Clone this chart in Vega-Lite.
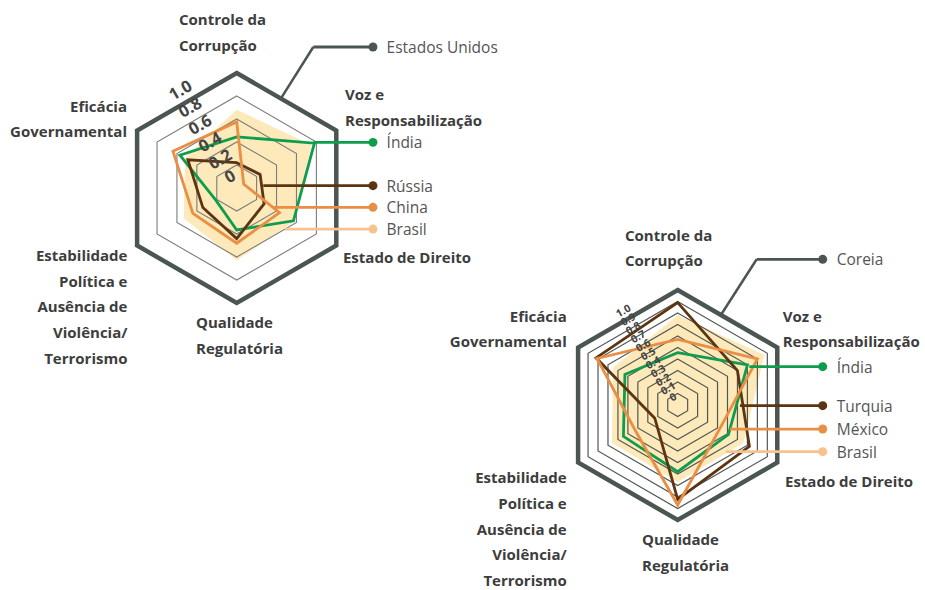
{
  "$schema": "https://vega.github.io/schema/vega-lite/v6.json",
  "width": 925,
  "height": 590,
  "autosize": {"type": "fit", "contains": "padding"},
  "padding": 0,
  "background": "white",
  "config": {"view": {"stroke": null}},
  "params": [
    {"name": "cxL", "value": 2.0583},
    {"name": "cyL", "value": 1.6348},
    {"name": "cxR", "value": 5.893},
    {"name": "cyR", "value": 3.5217}
  ],
  "datasets": {
    "series": [
      {"chart": "L", "country": "Estados Unidos", "i": 0, "v": 1}, {"chart": "L", "country": "Estados Unidos", "i": 1, "v": 1},
      {"chart": "L", "country": "Estados Unidos", "i": 2, "v": 1}, {"chart": "L", "country": "Estados Unidos", "i": 3, "v": 1},
      {"chart": "L", "country": "Estados Unidos", "i": 4, "v": 1}, {"chart": "L", "country": "Estados Unidos", "i": 5, "v": 1},
      {"chart": "L", "country": "Índia", "i": 0, "v": 0.445}, {"chart": "L", "country": "Índia", "i": 1, "v": 0.78},
      {"chart": "L", "country": "Índia", "i": 2, "v": 0.57}, {"chart": "L", "country": "Índia", "i": 3, "v": 0.365},
      {"chart": "L", "country": "Índia", "i": 4, "v": 0.21}, {"chart": "L", "country": "Índia", "i": 5, "v": 0.57},
      {"chart": "L", "country": "Rússia", "i": 0, "v": 0.22}, {"chart": "L", "country": "Rússia", "i": 1, "v": 0.235},
      {"chart": "L", "country": "Rússia", "i": 2, "v": 0.275}, {"chart": "L", "country": "Rússia", "i": 3, "v": 0.44},
      {"chart": "L", "country": "Rússia", "i": 4, "v": 0.34}, {"chart": "L", "country": "Rússia", "i": 5, "v": 0.49},
      {"chart": "L", "country": "China", "i": 0, "v": 0.575}, {"chart": "L", "country": "China", "i": 1, "v": 0.07},
      {"chart": "L", "country": "China", "i": 2, "v": 0.43}, {"chart": "L", "country": "China", "i": 3, "v": 0.48},
      {"chart": "L", "country": "China", "i": 4, "v": 0.44}, {"chart": "L", "country": "China", "i": 5, "v": 0.64},
      {"chart": "L", "country": "Brasil", "i": 0, "v": 0.68}, {"chart": "L", "country": "Brasil", "i": 1, "v": 0.75},
      {"chart": "L", "country": "Brasil", "i": 2, "v": 0.58}, {"chart": "L", "country": "Brasil", "i": 3, "v": 0.63},
      {"chart": "L", "country": "Brasil", "i": 4, "v": 0.53}, {"chart": "L", "country": "Brasil", "i": 5, "v": 0.52},
      {"chart": "R", "country": "Coreia", "i": 0, "v": 1}, {"chart": "R", "country": "Coreia", "i": 1, "v": 1},
      {"chart": "R", "country": "Coreia", "i": 2, "v": 1}, {"chart": "R", "country": "Coreia", "i": 3, "v": 1},
      {"chart": "R", "country": "Coreia", "i": 4, "v": 1}, {"chart": "R", "country": "Coreia", "i": 5, "v": 1},
      {"chart": "R", "country": "Índia", "i": 0, "v": 0.455}, {"chart": "R", "country": "Índia", "i": 1, "v": 0.70},
      {"chart": "R", "country": "Índia", "i": 2, "v": 0.51}, {"chart": "R", "country": "Índia", "i": 3, "v": 0.58},
      {"chart": "R", "country": "Índia", "i": 4, "v": 0.545}, {"chart": "R", "country": "Índia", "i": 5, "v": 0.53},
      {"chart": "R", "country": "Turquia", "i": 0, "v": 0.89}, {"chart": "R", "country": "Turquia", "i": 1, "v": 0.60},
      {"chart": "R", "country": "Turquia", "i": 2, "v": 0.72}, {"chart": "R", "country": "Turquia", "i": 3, "v": 0.82},
      {"chart": "R", "country": "Turquia", "i": 4, "v": 0.23}, {"chart": "R", "country": "Turquia", "i": 5, "v": 0.82},
      {"chart": "R", "country": "México", "i": 0, "v": 0.57}, {"chart": "R", "country": "México", "i": 1, "v": 0.80},
      {"chart": "R", "country": "México", "i": 2, "v": 0.42}, {"chart": "R", "country": "México", "i": 3, "v": 0.87},
      {"chart": "R", "country": "México", "i": 4, "v": 0.43}, {"chart": "R", "country": "México", "i": 5, "v": 0.81},
      {"chart": "R", "country": "Brasil", "i": 0, "v": 0.78}, {"chart": "R", "country": "Brasil", "i": 1, "v": 0.87},
      {"chart": "R", "country": "Brasil", "i": 2, "v": 0.66}, {"chart": "R", "country": "Brasil", "i": 3, "v": 0.67},
      {"chart": "R", "country": "Brasil", "i": 4, "v": 0.66}, {"chart": "R", "country": "Brasil", "i": 5, "v": 0.65}
    ],
    "grid": [
      {"chart": "L", "level": 0.2, "k": [0, 1, 2, 3, 4, 5]},
      {"chart": "L", "level": 0.4, "k": [0, 1, 2, 3, 4, 5]},
      {"chart": "L", "level": 0.6, "k": [0, 1, 2, 3, 4, 5]},
      {"chart": "L", "level": 0.8, "k": [0, 1, 2, 3, 4, 5]},
      {"chart": "R", "level": 0.1, "k": [0, 1, 2, 3, 4, 5]},
      {"chart": "R", "level": 0.2, "k": [0, 1, 2, 3, 4, 5]},
      {"chart": "R", "level": 0.3, "k": [0, 1, 2, 3, 4, 5]},
      {"chart": "R", "level": 0.4, "k": [0, 1, 2, 3, 4, 5]},
      {"chart": "R", "level": 0.5, "k": [0, 1, 2, 3, 4, 5]},
      {"chart": "R", "level": 0.6, "k": [0, 1, 2, 3, 4, 5]},
      {"chart": "R", "level": 0.7, "k": [0, 1, 2, 3, 4, 5]},
      {"chart": "R", "level": 0.8, "k": [0, 1, 2, 3, 4, 5]},
      {"chart": "R", "level": 0.9, "k": [0, 1, 2, 3, 4, 5]}
    ],
    "ticks": [
      {"chart": "L", "lab": "1.0", "v": 1}, {"chart": "L", "lab": "0.8", "v": 0.8}, {"chart": "L", "lab": "0.6", "v": 0.6},
      {"chart": "L", "lab": "0.4", "v": 0.4}, {"chart": "L", "lab": "0.2", "v": 0.2}, {"chart": "L", "lab": "0", "v": 0},
      {"chart": "R", "lab": "1.0", "v": 1}, {"chart": "R", "lab": "0.9", "v": 0.9}, {"chart": "R", "lab": "0.8", "v": 0.8},
      {"chart": "R", "lab": "0.7", "v": 0.7}, {"chart": "R", "lab": "0.6", "v": 0.6}, {"chart": "R", "lab": "0.5", "v": 0.5},
      {"chart": "R", "lab": "0.4", "v": 0.4}, {"chart": "R", "lab": "0.3", "v": 0.3}, {"chart": "R", "lab": "0.2", "v": 0.2},
      {"chart": "R", "lab": "0.1", "v": 0.1}, {"chart": "R", "lab": "0", "v": 0}
    ],
    "axes": [
      {"chart": "L", "axis": 0, "line": 0, "text": "Controle da"}, {"chart": "L", "axis": 0, "line": 1, "text": "Corrupção"},
      {"chart": "L", "axis": 1, "line": 0, "text": "Voz e"}, {"chart": "L", "axis": 1, "line": 1, "text": "Responsabilização"},
      {"chart": "L", "axis": 2, "line": 0, "text": "Estado de Direito"},
      {"chart": "L", "axis": 3, "line": 0, "text": "Qualidade"}, {"chart": "L", "axis": 3, "line": 1, "text": "Regulatória"},
      {"chart": "L", "axis": 4, "line": 0, "text": "Estabilidade"}, {"chart": "L", "axis": 4, "line": 1, "text": "Política e"},
      {"chart": "L", "axis": 4, "line": 2, "text": "Ausência de"}, {"chart": "L", "axis": 4, "line": 3, "text": "Violência/"},
      {"chart": "L", "axis": 4, "line": 4, "text": "Terrorismo"},
      {"chart": "L", "axis": 5, "line": 0, "text": "Eficácia"}, {"chart": "L", "axis": 5, "line": 1, "text": "Governamental"},
      {"chart": "R", "axis": 0, "line": 0, "text": "Controle da"}, {"chart": "R", "axis": 0, "line": 1, "text": "Corrupção"},
      {"chart": "R", "axis": 1, "line": 0, "text": "Voz e"}, {"chart": "R", "axis": 1, "line": 1, "text": "Responsabilização"},
      {"chart": "R", "axis": 2, "line": 0, "text": "Estado de Direito"},
      {"chart": "R", "axis": 3, "line": 0, "text": "Qualidade"}, {"chart": "R", "axis": 3, "line": 1, "text": "Regulatória"},
      {"chart": "R", "axis": 4, "line": 0, "text": "Estabilidade"}, {"chart": "R", "axis": 4, "line": 1, "text": "Política e"},
      {"chart": "R", "axis": 4, "line": 2, "text": "Ausência de"}, {"chart": "R", "axis": 4, "line": 3, "text": "Violência/"},
      {"chart": "R", "axis": 4, "line": 4, "text": "Terrorismo"},
      {"chart": "R", "axis": 5, "line": 0, "text": "Eficácia"}, {"chart": "R", "axis": 5, "line": 1, "text": "Governamental"}
    ],
    "legend": [
      {"chart": "L", "country": "Estados Unidos", "slot": 0}, {"chart": "L", "country": "Índia", "slot": 1},
      {"chart": "L", "country": "Rússia", "slot": 2}, {"chart": "L", "country": "China", "slot": 3},
      {"chart": "L", "country": "Brasil", "slot": 4},
      {"chart": "R", "country": "Coreia", "slot": 0}, {"chart": "R", "country": "Índia", "slot": 1},
      {"chart": "R", "country": "Turquia", "slot": 2}, {"chart": "R", "country": "México", "slot": 3},
      {"chart": "R", "country": "Brasil", "slot": 4}
    ]
  },
  "encoding": {
    "x": {"field": "px", "type": "quantitative", "scale": {"domain": [0, 8.0435], "nice": false, "zero": false}, "axis": null},
    "y": {"field": "py", "type": "quantitative", "scale": {"domain": [0, 5.1304], "nice": false, "zero": false, "reverse": true}, "axis": null}
  },
  "layer": [
    {
      "data": {"name": "series"},
      "transform": [
        {"filter": "datum.country == 'Brasil'"},
        {"calculate": "datum.chart == 'L' ? cxL : cxR", "as": "cx"},
        {"calculate": "datum.chart == 'L' ? cyL : cyR", "as": "cy"},
        {"calculate": "datum.cx + datum.v * cos(PI / 2 - datum.i * PI / 3)", "as": "px"},
        {"calculate": "datum.cy - datum.v * sin(PI / 2 - datum.i * PI / 3)", "as": "py"}
      ],
      "mark": {"type": "line", "interpolate": "linear-closed", "fill": "#fde9b9", "stroke": null, "strokeWidth": 0},
      "encoding": {"detail": {"field": "chart"}, "order": {"field": "i", "type": "quantitative"}}
    },
    {
      "data": {"name": "grid"},
      "transform": [
        {"flatten": ["k"]},
        {"filter": "datum.chart == 'L'"},
        {"calculate": "cxL + datum.level * cos(PI / 2 - datum.k * PI / 3)", "as": "px"},
        {"calculate": "cyL - datum.level * sin(PI / 2 - datum.k * PI / 3)", "as": "py"}
      ],
      "mark": {"type": "line", "interpolate": "linear-closed", "color": "#7a7d7b", "strokeWidth": 1.1, "strokeJoin": "miter"},
      "encoding": {"detail": {"field": "level"}, "order": {"field": "k", "type": "quantitative"}}
    },
    {
      "data": {"name": "grid"},
      "transform": [
        {"flatten": ["k"]},
        {"filter": "datum.chart == 'R'"},
        {"calculate": "cxR + datum.level * cos(PI / 2 - datum.k * PI / 3)", "as": "px"},
        {"calculate": "cyR - datum.level * sin(PI / 2 - datum.k * PI / 3)", "as": "py"}
      ],
      "mark": {"type": "line", "interpolate": "linear-closed", "color": "#4f5753", "strokeWidth": 1.2, "strokeJoin": "miter"},
      "encoding": {"detail": {"field": "level"}, "order": {"field": "k", "type": "quantitative"}}
    },
    {
      "data": {"name": "series"},
      "transform": [
        {"filter": "datum.country == 'Estados Unidos' || datum.country == 'Coreia'"},
        {"calculate": "datum.chart == 'L' ? cxL : cxR", "as": "cx"},
        {"calculate": "datum.chart == 'L' ? cyL : cyR", "as": "cy"},
        {"calculate": "datum.cx + datum.v * cos(PI / 2 - datum.i * PI / 3)", "as": "px"},
        {"calculate": "datum.cy - datum.v * sin(PI / 2 - datum.i * PI / 3)", "as": "py"}
      ],
      "mark": {"type": "line", "interpolate": "linear-closed", "color": "#4c5651", "strokeWidth": 4.5, "strokeJoin": "miter"},
      "encoding": {"detail": {"field": "chart"}, "order": {"field": "i", "type": "quantitative"}}
    },
    {
      "data": {"name": "series"},
      "transform": [
        {"filter": "datum.country != 'Estados Unidos' && datum.country != 'Coreia' && datum.country != 'Brasil'"},
        {"calculate": "datum.chart == 'L' ? cxL : cxR", "as": "cx"},
        {"calculate": "datum.chart == 'L' ? cyL : cyR", "as": "cy"},
        {"calculate": "datum.cx + datum.v * cos(PI / 2 - datum.i * PI / 3)", "as": "px"},
        {"calculate": "datum.cy - datum.v * sin(PI / 2 - datum.i * PI / 3)", "as": "py"},
        {"calculate": "datum.chart + datum.country", "as": "key"}
      ],
      "mark": {"type": "line", "interpolate": "linear-closed", "strokeWidth": 2.8, "strokeJoin": "miter"},
      "encoding": {
        "detail": {"field": "key"},
        "order": {"field": "i", "type": "quantitative"},
        "color": {"field": "country", "type": "nominal", "legend": null,
          "scale": {"domain": ["Estados Unidos", "Coreia", "Índia", "Rússia", "Turquia", "China", "México", "Brasil"],
                    "range": ["#4c5651", "#4c5651", "#0e9d4d", "#5c3411", "#5c3411", "#e98e45", "#e98e45", "#f8c28f"]}}
      }
    },
    {
      "data": {"name": "ticks"},
      "transform": [
        {"filter": "datum.chart == 'L'"},
        {"calculate": "datum.v * 0.866 + 0.11", "as": "d"},
        {"calculate": "cxL - 0.5 * datum.d", "as": "px"},
        {"calculate": "cyL - 0.866 * datum.d", "as": "py"}
      ],
      "mark": {"type": "text", "angle": 330, "font": "Open Sans", "fontWeight": "bold", "fontSize": 16.5, "color": "#444444", "align": "center", "baseline": "middle"},
      "encoding": {"text": {"field": "lab"}}
    },
    {
      "data": {"name": "ticks"},
      "transform": [
        {"filter": "datum.chart == 'R'"},
        {"calculate": "datum.v * 0.866 + 0.075", "as": "d"},
        {"calculate": "cxR - 0.5 * datum.d", "as": "px"},
        {"calculate": "cyR - 0.866 * datum.d", "as": "py"}
      ],
      "mark": {"type": "text", "angle": 330, "font": "Open Sans", "fontWeight": "bold", "fontSize": 10.5, "color": "#444444", "align": "center", "baseline": "middle"},
      "encoding": {"text": {"field": "lab"}}
    },
    {
      "data": {"name": "axes"},
      "transform": [
        {"filter": "datum.axis <= 3"},
        {"calculate": "datum.chart == 'L' ? cxL + [-0.502, 0.942, 0.924, -0.354][datum.axis] : cxR + [-0.458, 0.913, 0.933, -0.310][datum.axis]", "as": "px"},
        {"calculate": "datum.chart == 'L' ? cyL + [-1.461, -0.809, 0.609, 1.174][datum.axis] + datum.line * 0.2243 : cyR + [-1.470, -0.768, 0.670, 1.174][datum.axis] + datum.line * 0.222", "as": "py"}
      ],
      "mark": {"type": "text", "font": "Open Sans", "fontWeight": "bold", "fontSize": 15, "color": "#3d3d3d", "align": "left", "baseline": "middle"},
      "encoding": {"text": {"field": "text"}}
    },
    {
      "data": {"name": "axes"},
      "transform": [
        {"filter": "datum.axis >= 4"},
        {"calculate": "datum.chart == 'L' ? cxL + (datum.axis == 4 ? -0.950 : -0.954) : cxR - 0.965", "as": "px"},
        {"calculate": "datum.chart == 'L' ? cyL + (datum.axis == 4 ? 0.591 : -0.707) + datum.line * 0.2235 : cyR + (datum.axis == 4 ? 0.635 : -0.768) + datum.line * 0.224", "as": "py"}
      ],
      "mark": {"type": "text", "font": "Open Sans", "fontWeight": "bold", "fontSize": 15, "color": "#3d3d3d", "align": "right", "baseline": "middle"},
      "encoding": {"text": {"field": "text"}}
    },
    {
      "data": {"name": "legend"},
      "transform": [
        {"filter": "datum.slot == 0"},
        {"calculate": "datum.chart == 'L' ? cxL : cxR", "as": "cx"},
        {"calculate": "datum.chart == 'L' ? cyL : cyR", "as": "cy"},
        {"calculate": "datum.cx + (datum.chart == 'L' ? 0.385 : 0.374)", "as": "px"},
        {"calculate": "datum.cy - 0.78", "as": "py"},
        {"calculate": "datum.cx + (datum.chart == 'L' ? 0.666 : 0.687)", "as": "px2"},
        {"calculate": "datum.cy + (datum.chart == 'L' ? -1.226 : -1.267)", "as": "py2"}
      ],
      "mark": {"type": "rule", "strokeWidth": 2.5, "color": "#4c5651"},
      "encoding": {"x2": {"field": "px2"}, "y2": {"field": "py2"}}
    },
    {
      "data": {"name": "legend"},
      "transform": [
        {"calculate": "datum.chart == 'L' ? cxL : cxR", "as": "cx"},
        {"calculate": "datum.chart == 'L' ? cyL : cyR", "as": "cy"},
        {"calculate": "datum.cx + (datum.chart == 'L' ? [0.666, 0.666, 0.231, 0.318, 0.42][datum.slot] : [0.687, 0.623, 0.542, 0.455, 0.42][datum.slot])", "as": "px"},
        {"calculate": "datum.cy + (datum.chart == 'L' ? [-1.226, -0.397, -0.020, 0.168, 0.357][datum.slot] : [-1.267, -0.333, 0.006, 0.209, 0.406][datum.slot])", "as": "py"},
        {"calculate": "datum.cx + (datum.chart == 'L' ? 1.185 : 1.261)", "as": "px2"}
      ],
      "mark": {"type": "rule", "strokeWidth": 2.8},
      "encoding": {
        "x2": {"field": "px2"},
        "y2": {"field": "py"},
        "color": {"field": "country", "type": "nominal", "legend": null}
      }
    },
    {
      "data": {"name": "legend"},
      "transform": [
        {"calculate": "datum.chart == 'L' ? cxL : cxR", "as": "cx"},
        {"calculate": "datum.chart == 'L' ? cyL : cyR", "as": "cy"},
        {"calculate": "datum.cx + (datum.chart == 'L' ? 1.185 : 1.261)", "as": "px"},
        {"calculate": "datum.cy + (datum.chart == 'L' ? [-1.226, -0.397, -0.020, 0.168, 0.357][datum.slot] : [-1.267, -0.333, 0.006, 0.209, 0.406][datum.slot])", "as": "py"}
      ],
      "mark": {"type": "point", "filled": true, "size": 80, "opacity": 1},
      "encoding": {"color": {"field": "country", "type": "nominal", "legend": null}}
    },
    {
      "data": {"name": "legend"},
      "transform": [
        {"calculate": "datum.chart == 'L' ? cxL : cxR", "as": "cx"},
        {"calculate": "datum.chart == 'L' ? cyL : cyR", "as": "cy"},
        {"calculate": "datum.cx + (datum.chart == 'L' ? 1.303 : 1.383)", "as": "px"},
        {"calculate": "datum.cy + (datum.chart == 'L' ? [-1.226, -0.397, -0.020, 0.168, 0.357][datum.slot] : [-1.267, -0.333, 0.006, 0.209, 0.406][datum.slot])", "as": "py"}
      ],
      "mark": {"type": "text", "font": "Open Sans", "fontSize": 15.5, "color": "#555555", "align": "left", "baseline": "middle", "dy": 1},
      "encoding": {"text": {"field": "country"}}
    }
  ]
}
